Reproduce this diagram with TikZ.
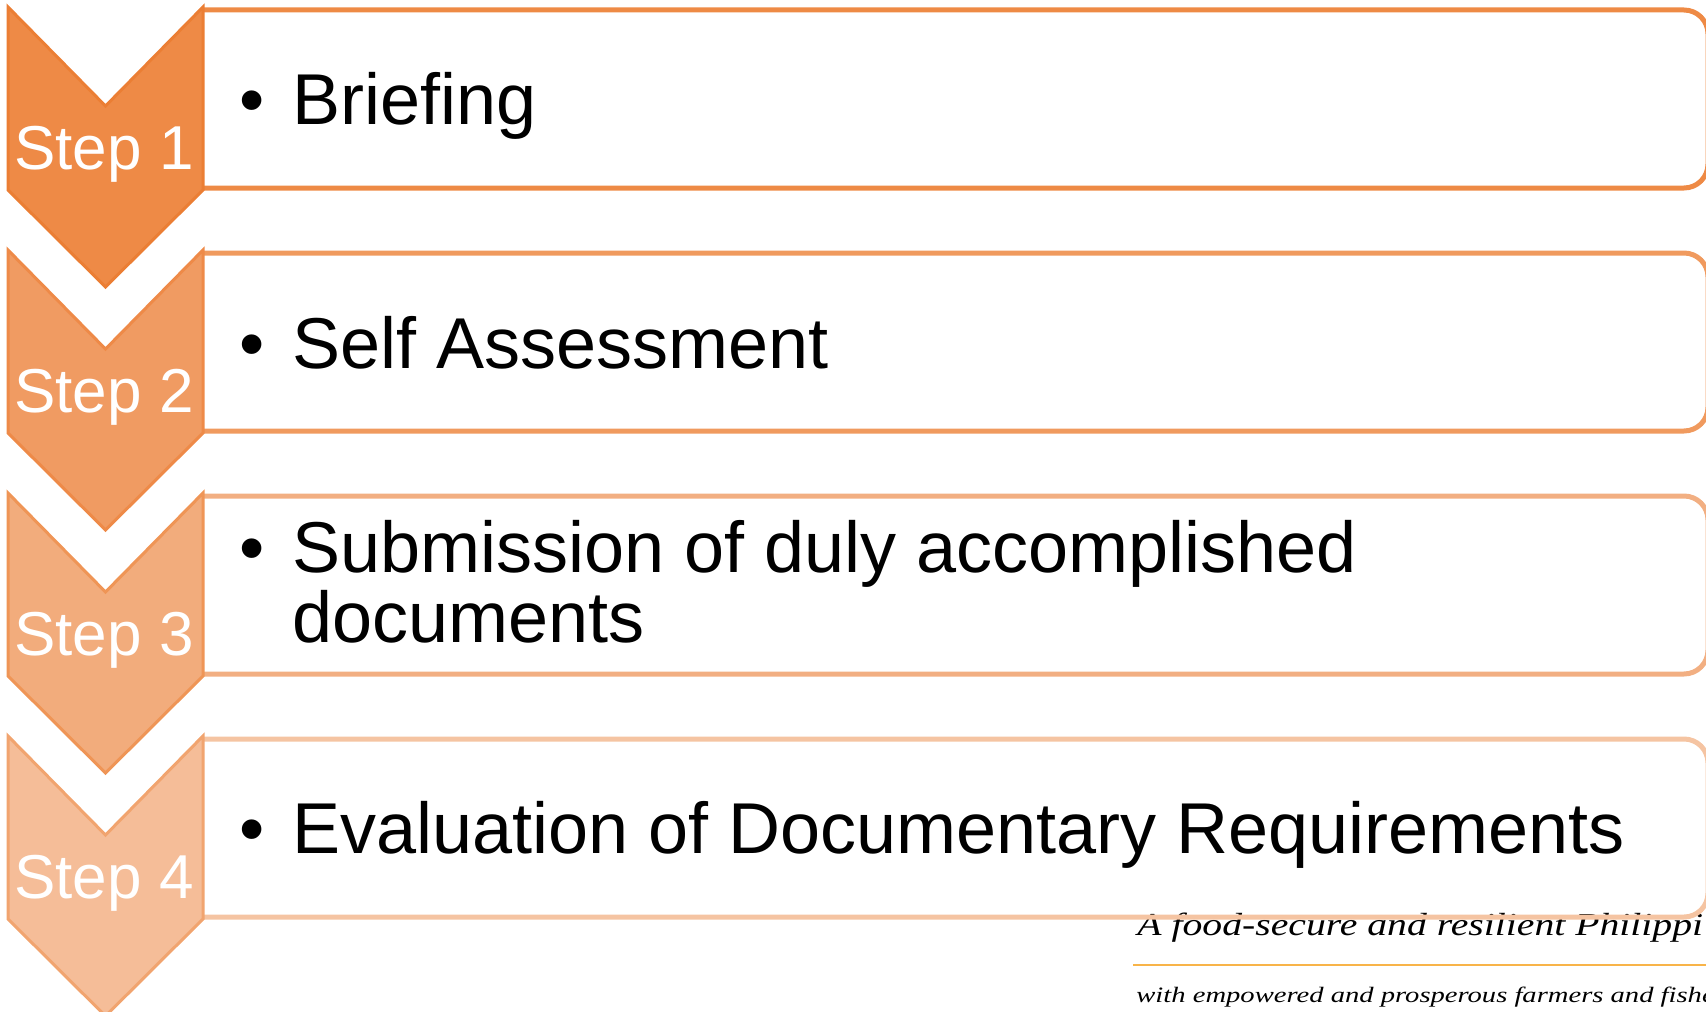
\documentclass[tikz,border=0pt]{standalone}
\usepackage{fontspec}
\setmainfont{Liberation Sans}
\newfontfamily\tagfont{Liberation Serif}
\usepackage{graphicx}
\usetikzlibrary{positioning}

\definecolor{chevfillA}{HTML}{EE8A46}
\definecolor{chevfillB}{HTML}{F09B62}
\definecolor{chevfillC}{HTML}{F2AC7C}
\definecolor{chevfillD}{HTML}{F5BD98}
\definecolor{chevlineA}{HTML}{EB7E34}
\definecolor{chevlineB}{HTML}{EE8A48}
\definecolor{chevlineC}{HTML}{EF9556}
\definecolor{chevlineD}{HTML}{F1A46F}
\definecolor{boxlineA}{HTML}{EE8A45}
\definecolor{boxlineB}{HTML}{F09A5E}
\definecolor{boxlineC}{HTML}{F2AF82}
\definecolor{boxlineD}{HTML}{F5C4A2}
\definecolor{tagline}{HTML}{F8B449}

\begin{document}
\begin{tikzpicture}[x=0.5pt, y=-0.5pt,
    chev/.style={line width=1.5pt, line join=miter},
    stepbox/.style={line width=2.5pt, rounded corners=12pt},
    steplabel/.style={font=\fontsize{31}{36}\selectfont, text=white, anchor=base, inner sep=0pt},
    item/.style={font=\fontsize{36}{35}\selectfont, anchor=base west, align=left, inner sep=0pt},
    bullet/.style={font=\fontsize{36}{35}\selectfont, inner sep=0pt},
    tag/.style={font=\tagfont\itshape, anchor=base west, inner sep=0pt}]
    \useasboundingbox (0,0) rectangle (1706,1011);
    \clip (0,0) rectangle (1706,1011);

    % slide footer
    \node[tag, font=\tagfont\itshape\fontsize{16}{18}\selectfont] (motto) at (1137,935) {\scalebox{1.24}[1]{A food-secure and resilient Philippi}};
    \draw[tagline, line width=1pt] (1133,965) -- (1710,965);
    \node[tag, font=\tagfont\itshape\fontsize{11}{13}\selectfont] (motto2) at (1136,1002) {\scalebox{1.3}[1]{with empowered and prosperous farmers and fishe}};

    % boxes
    \draw[stepbox, boxlineA] (203,10) -- (1708,10) -- (1708,188) -- (203,188);
    \draw[stepbox, boxlineB] (203,253) -- (1708,253) -- (1708,431) -- (203,431);
    \draw[stepbox, boxlineC] (203,496) -- (1708,496) -- (1708,674) -- (203,674);
    \draw[stepbox, boxlineD] (203,739) -- (1708,739) -- (1708,917) -- (203,917);

    % chevrons
    \draw[chev, draw=chevlineA, fill=chevfillA] (8,7) -- (105.5,106) -- (203,7) -- (203,190) -- (105.5,287) -- (8,190) -- cycle;
    \draw[chev, draw=chevlineB, fill=chevfillB] (8,250) -- (105.5,349) -- (203,250) -- (203,433) -- (105.5,530) -- (8,433) -- cycle;
    \draw[chev, draw=chevlineC, fill=chevfillC] (8,493) -- (105.5,592) -- (203,493) -- (203,676) -- (105.5,773) -- (8,676) -- cycle;
    \draw[chev, draw=chevlineD, fill=chevfillD] (8,736) -- (105.5,835) -- (203,736) -- (203,919) -- (105.5,1016) -- (8,919) -- cycle;

    \node[steplabel] (step1) at (104,169) {Step 1};
    \node[steplabel] (step2) at (104,412) {Step 2};
    \node[steplabel] (step3) at (104,655) {Step 3};
    \node[steplabel] (step4) at (104,898) {Step 4};

    \node[item] (item1) at (292,125) {Briefing};
    \node[item] (item2) at (292,368) {Self Assessment};
    \node[item] (item3) at (292,642) {Submission of duly accomplished\\documents};
    \node[item] (item4) at (292,853) {Evaluation of Documentary Requirements};

    \node[bullet, left=13.5pt of item1.base west, anchor=base east] (dot1) {•};
    \node[bullet, left=13.5pt of item2.base west, anchor=base east] (dot2) {•};
    \node[bullet, above left=35pt and 13.5pt of item3.base west, anchor=base east] (dot3) {•};
    \node[bullet, left=13.5pt of item4.base west, anchor=base east] (dot4) {•};
\end{tikzpicture}
\end{document}
